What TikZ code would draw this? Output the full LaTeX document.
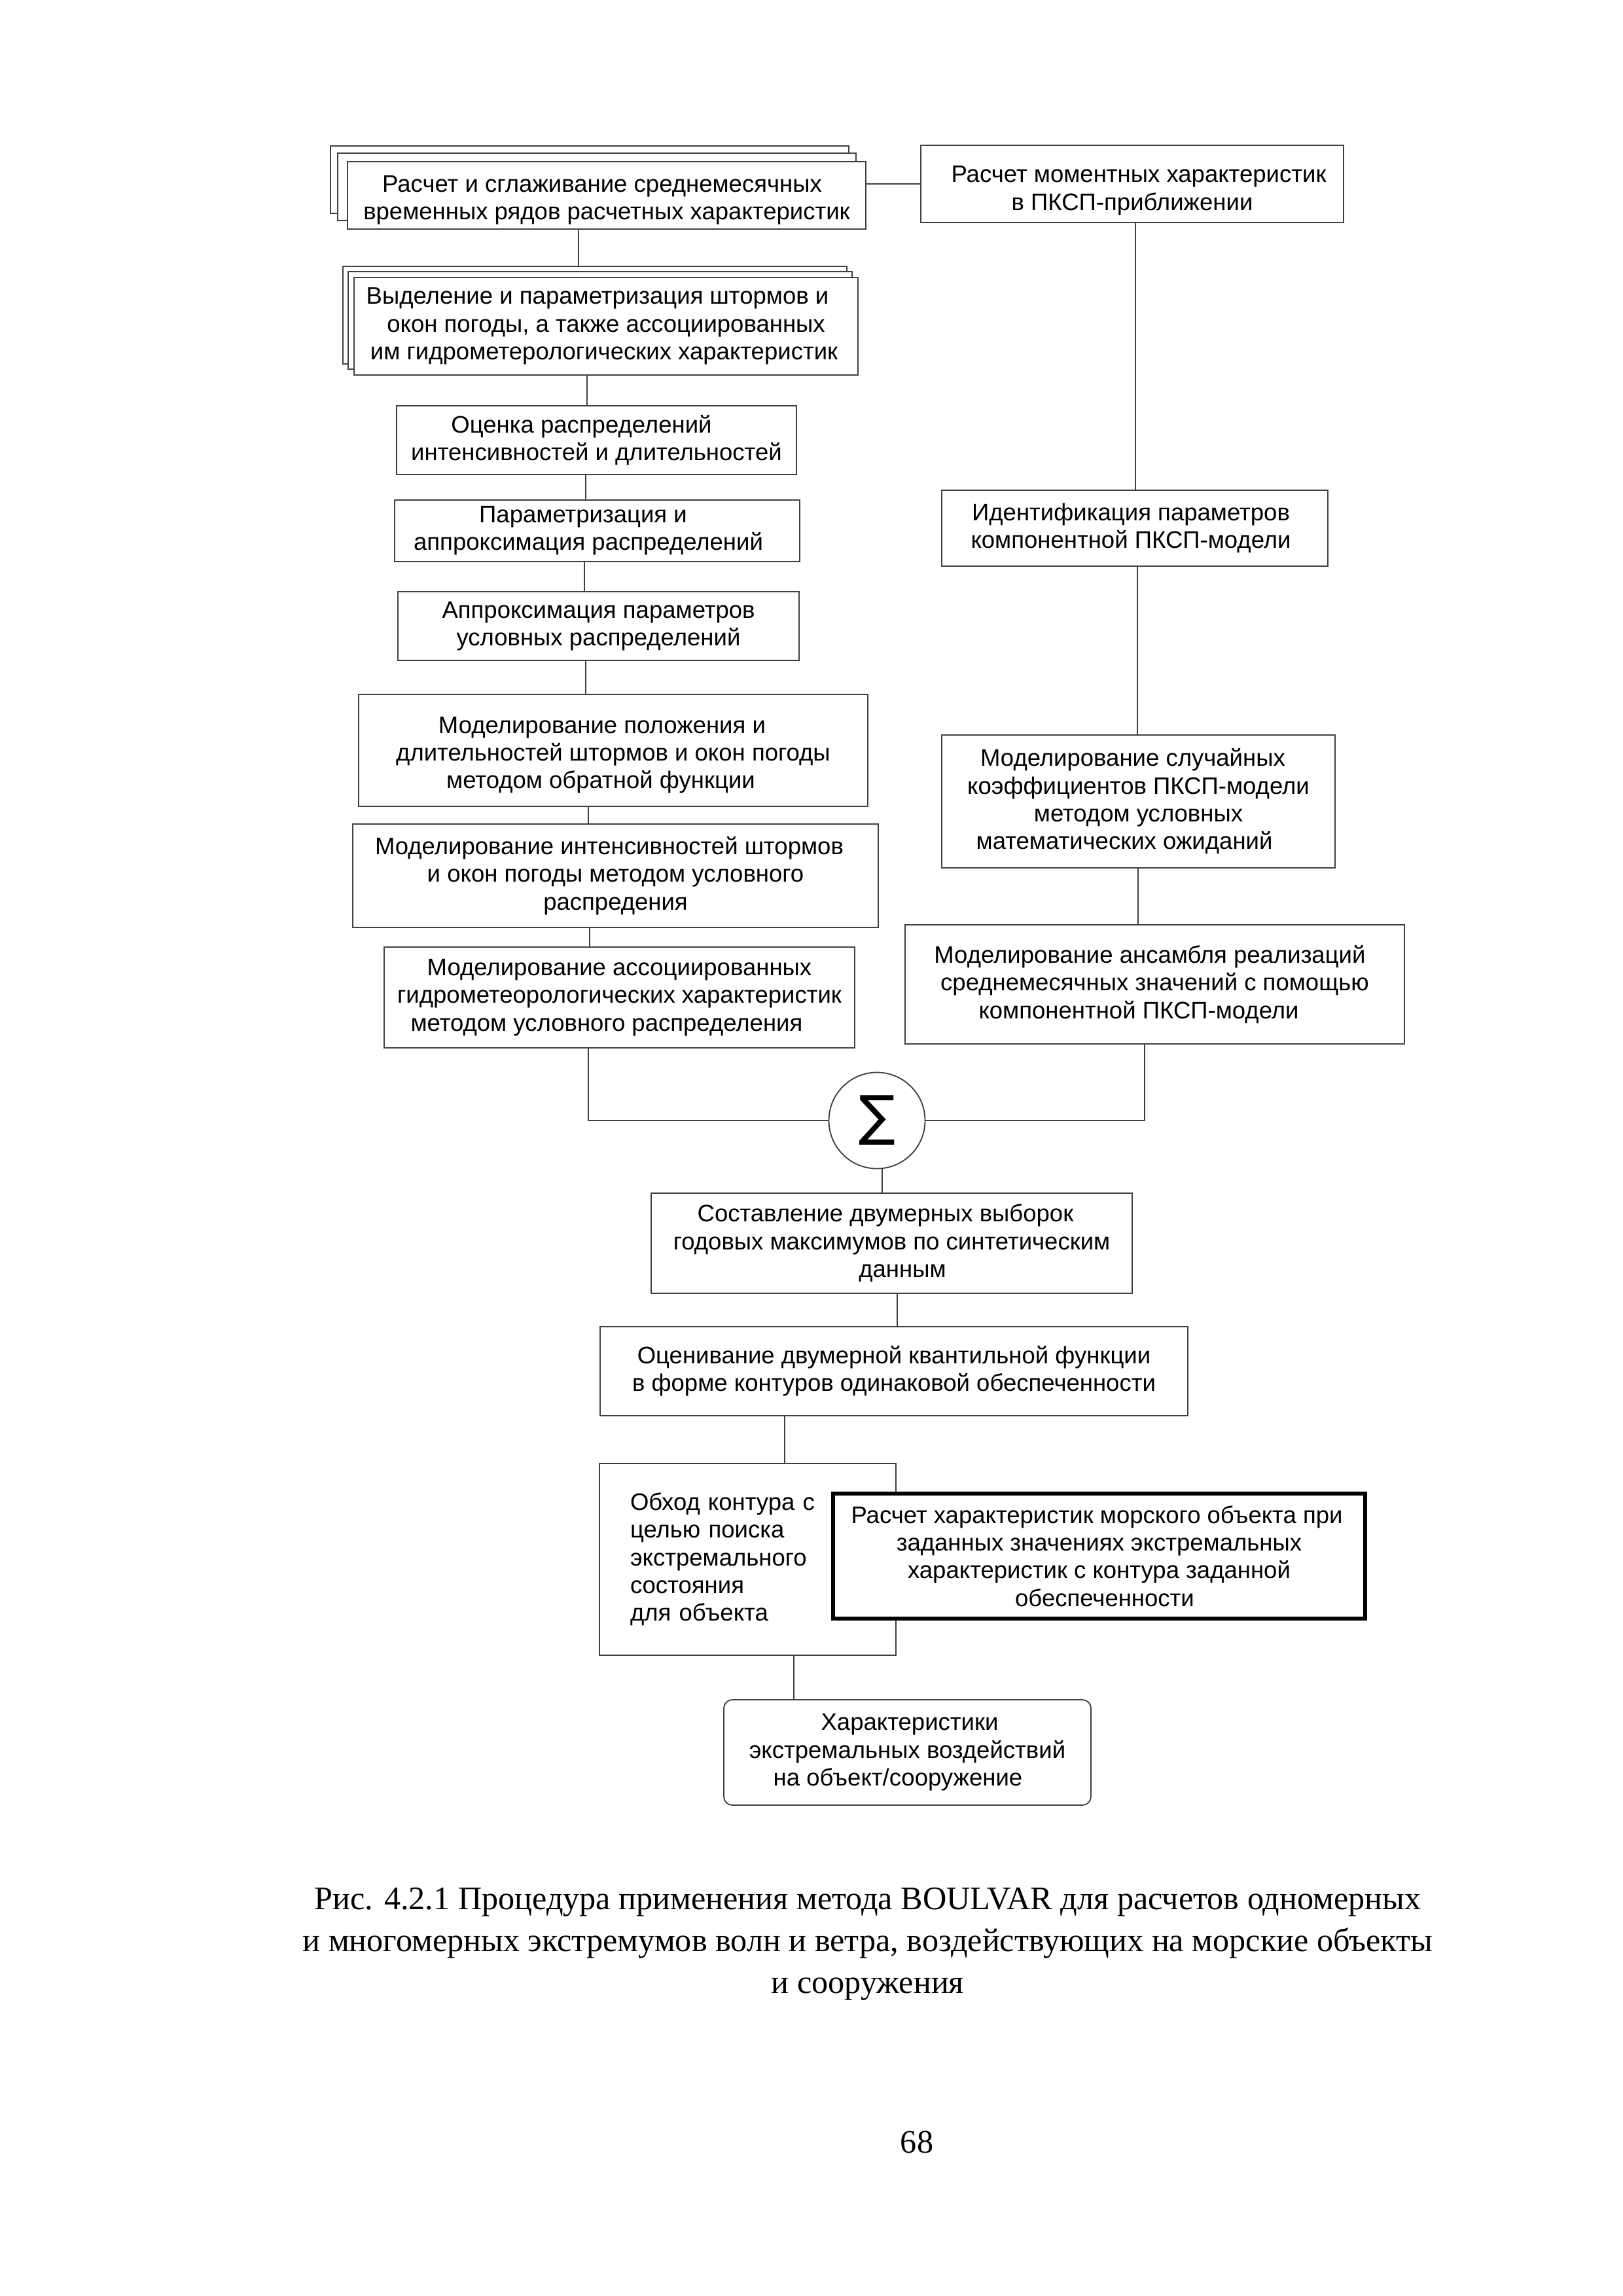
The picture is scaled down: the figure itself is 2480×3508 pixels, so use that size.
\documentclass[tikz,border=0pt]{standalone}
\usepackage{fontspec}
\setmainfont{Liberation Serif}
\newfontfamily\boxfont{Liberation Sans}
\newfontfamily\symfont{DejaVu Sans}
\usetikzlibrary{backgrounds}
\newlength\px
\setlength\px{0.0846667mm}
\newcommand\tr[1]{\hspace*{#1\px}}
\begin{document}
\begin{tikzpicture}[x=0.0846667mm, y=-0.0846667mm,
  lbox/.style={draw=black!75, line width=0.45pt, fill=white, inner sep=0pt, align=center,
    font=\boxfont\fontsize{8.8pt}{10.2pt}\selectfont, text=black},
  backbox/.style={draw=black!75, line width=0.45pt, fill=white},
  conn/.style={draw=black!75, line width=0.45pt},
  thickbox/.style={lbox, line width=1.4pt, draw=black},
  capt/.style={align=center, font=\fontsize{12.1pt}{15.4pt}\selectfont, inner sep=0pt}]
\useasboundingbox (0,0) rectangle (2480,3508);

% ---- left column ----
\draw[backbox] (505,223) rectangle (1297,326);
\draw[backbox] (516,234) rectangle (1308,337);
\node[lbox, minimum width=792\px, minimum height=103\px] (b1) at (927,298.5)
  {\rule{0pt}{9.5pt}Расчет и сглаживание среднемесячных\tr{14}\\временных рядов расчетных характеристик};

\draw[backbox] (524,407) rectangle (1294,556);
\draw[backbox] (532,415) rectangle (1302,564);
\node[lbox, minimum width=770\px, minimum height=149\px] (b2) at (926,498.5)
  {Выделение и параметризация штормов и\tr{26}\\окон погоды, а также ассоциированных\tr{14}\\им гидрометерологических характеристик\tr{6}};

\node[lbox, minimum width=611\px, minimum height=105\px] (b3) at (911.5,672.5)
  {Оценка распределений\tr{46}\\интенсивностей и длительностей};

\node[lbox, minimum width=619\px, minimum height=94\px] (b4) at (912.5,811)
  {Параметризация и\tr{43}\\аппроксимация распределений\tr{27}};

\node[lbox, minimum width=613\px, minimum height=105\px] (b5) at (914.5,956.5)
  {Аппроксимация параметров\\условных распределений};

\node[lbox, minimum width=778\px, minimum height=171\px] (b6) at (937,1146.5)
  {\rule{0pt}{9.5pt}Моделирование положения и\tr{34}\\длительностей штормов и окон погоды\tr{44}\\методом обратной функции\tr{38}};

\node[lbox, minimum width=803\px, minimum height=158\px] (b7) at (940.5,1338)
  {Моделирование интенсивностей штормов\tr{19}\\и окон погоды методом условного\tr{91}\\распредения};

\node[lbox, minimum width=719\px, minimum height=154\px] (b8) at (946.5,1524)
  {Моделирование ассоциированных\\гидрометеорологических характеристик\\методом условного распределения\tr{39}};

% ---- right column ----
\node[lbox, minimum width=646\px, minimum height=118\px] (r1) at (1730,281)
  {\rule{0pt}{11pt}\tr{20}Расчет моментных характеристик\\в ПКСП-приближении};

\node[lbox, minimum width=590\px, minimum height=116\px] (r2) at (1734,807)
  {Идентификация параметров\tr{12}\\компонентной ПКСП-модели\tr{12}};

\node[lbox, minimum width=601\px, minimum height=203\px] (r3) at (1739.5,1224.5)
  {Моделирование случайных\tr{17}\\коэффициентов ПКСП-модели\tr{13}\\методом условных\tr{57}\\математических ожиданий\tr{43}};

\node[lbox, minimum width=763\px, minimum height=182\px] (r4) at (1764.5,1504)
  {Моделирование ансамбля реализаций\tr{15}\\среднемесячных значений с помощью\tr{11}\\компонентной ПКСП-модели\tr{49}};

% ---- sum ----
\node[draw=black!75, line width=0.45pt, circle, fill=white, minimum size=147\px, inner sep=0pt,
  font=\symfont\fontsize{20pt}{20pt}\selectfont] (sum) at (1340,1712) {∑};

% ---- lower part ----
\node[lbox, minimum width=735\px, minimum height=153\px] (c1) at (1362.5,1899.5)
  {Составление двумерных выборок\tr{19}\\годовых максимумов по синтетическим\tr{21}\\\tr{33}данным};

\node[lbox, minimum width=898\px, minimum height=136\px] (c2) at (1366,2095)
  {Оценивание двумерной квантильной функции\\в форме контуров одинаковой обеспеченности};

\node[lbox, align=left, text width=359\px, inner xsep=47\px, minimum height=293\px] (c3) at (1142.5,2382.5)
  {Обход контура с\\целью поиска\\экстремального\\состояния\\для объекта};

\node[thickbox, minimum width=813\px, minimum height=191\px] (c4) at (1679.5,2377.5)
  {Расчет характеристик морского объекта при\tr{7}\\заданных значениях экстремальных\tr{55}\\характеристик с контура заданной\tr{69}\\\tr{17}обеспеченности};

\node[lbox, rounded corners=13\px, minimum width=561\px, minimum height=161\px] (c5) at (1386.5,2677.5)
  {\tr{7}Характеристики\\экстремальных воздействий\tr{9}\\на объект/сооружение\tr{29}};

% ---- caption and page number ----
\node[capt] (cap) at (1326,2970)
  {Рис. 4.2.1 Процедура применения метода BOULVAR для расчетов одномерных\\и многомерных экстремумов волн и ветра, воздействующих на морские объекты\\и сооружения};
\node[capt] (pg) at (1401,3273) {68};

% ---- connectors ----
\coordinate (x1) at (884,0);
\coordinate (x2) at (897,0);
\coordinate (x3) at (895,0);
\coordinate (x4) at (893,0);
\coordinate (x5) at (895,0);
\coordinate (x6) at (899,0);
\coordinate (x7) at (901,0);
\coordinate (x8) at (899,0);
\coordinate (xr1) at (1735,0);
\coordinate (xr2) at (1738,0);
\coordinate (xr3) at (1739,0);
\coordinate (xr4) at (1749,0);
\coordinate (xs) at (1348,0);
\coordinate (xc1) at (1371,0);
\coordinate (xc2) at (1199,0);
\coordinate (xc3) at (1213,0);
\begin{scope}[on background layer]
\draw[conn] (b1.south -| x1) -- (b2.north -| x1);
\draw[conn] (b2.south -| x2) -- (b3.north -| x2);
\draw[conn] (b3.south -| x3) -- (b4.north -| x3);
\draw[conn] (b4.south -| x4) -- (b5.north -| x4);
\draw[conn] (b5.south -| x5) -- (b6.north -| x5);
\draw[conn] (b6.south -| x6) -- (b7.north -| x6);
\draw[conn] (b7.south -| x7) -- (b8.north -| x7);
\draw[conn] (b8.south -| x8) |- (sum.west);
\draw[conn] (r1.west) -- (r1.west -| b1.east);
\draw[conn] (r1.south -| xr1) -- (r2.north -| xr1);
\draw[conn] (r2.south -| xr2) -- (r3.north -| xr2);
\draw[conn] (r3.south -| xr3) -- (r4.north -| xr3);
\draw[conn] (r4.south -| xr4) |- (sum.east);
\draw[conn] (sum.south -| xs) -- (c1.north -| xs);
\draw[conn] (c1.south -| xc1) -- (c2.north -| xc1);
\draw[conn] (c2.south -| xc2) -- (c3.north -| xc2);
\draw[conn] (c3.south -| xc3) -- (c5.north -| xc3);
\end{scope}
\end{tikzpicture}
\end{document}
